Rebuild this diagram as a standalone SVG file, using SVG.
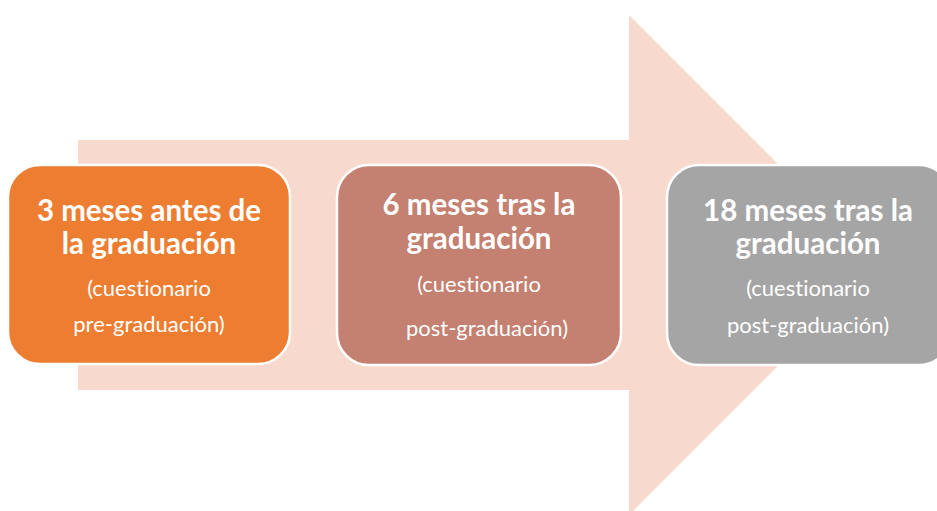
<svg xmlns="http://www.w3.org/2000/svg" width="937" height="511" viewBox="0 0 937 511">
<style>
.box{stroke:#ffffff;stroke-width:2.5}
.t1{font-family:Lato,"Liberation Sans",sans-serif;font-weight:bold;font-size:29.5px;fill:#ffffff;text-anchor:middle;font-variant-ligatures:none}
.t2{font-family:Lato,"Liberation Sans",sans-serif;font-size:22px;fill:#ffffff;text-anchor:middle;font-variant-ligatures:none}
</style>
<rect width="937" height="511" fill="#ffffff"/>
<g id="connectors">
<path d="M78,140 H629 V15 L879,265 L629,515 V390 H78 Z" fill="#F8D9CE"/>
</g>
<g id="node1">
<rect class="box" x="8" y="165" width="282" height="199" rx="32" fill="#ED7D31"/>
<text class="t1" x="149" y="221">3 meses antes de</text>
<text class="t1" x="149" y="254">la graduación</text>
<text class="t2" x="149" y="296">(cuestionario</text>
<text class="t2" x="149" y="332">pre-graduación)</text>
</g>
<g id="node2">
<rect class="box" x="337" y="165" width="284" height="200" rx="32" fill="#C48070"/>
<text class="t1" x="479" y="215">6 meses tras la</text>
<text class="t1" x="479" y="249">graduación</text>
<text class="t2" x="479" y="292">(cuestionario</text>
<text class="t2" x="487" y="336">post-graduación)</text>
</g>
<g id="node3">
<rect class="box" x="667" y="165" width="284" height="200" rx="32" fill="#A5A5A5"/>
<text class="t1" x="808" y="221">18 meses tras la</text>
<text class="t1" x="808" y="254">graduación</text>
<text class="t2" x="808" y="296">(cuestionario</text>
<text class="t2" x="808" y="333">post-graduación)</text>
</g>
</svg>
